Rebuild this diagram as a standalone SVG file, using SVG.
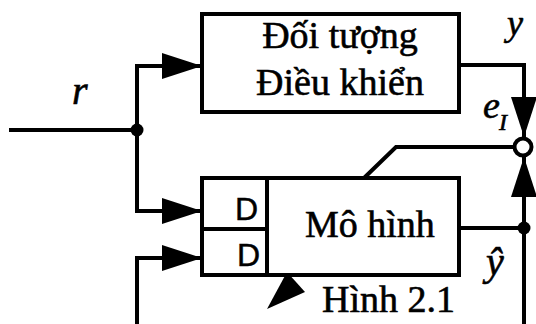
<svg xmlns="http://www.w3.org/2000/svg" width="536" height="324" viewBox="0 0 536 324">
  <style>
    .ln { fill: none; stroke: #000; stroke-width: 4; stroke-linejoin: miter; }
    .box { fill: #fff; stroke: #000; stroke-width: 4; }
    .txt { font-family: 'Liberation Serif', 'DejaVu Serif', serif; font-size: 38px; fill: #000; stroke: #000; stroke-width: 0.6; }
    .it { font-family: 'Liberation Serif', 'DejaVu Serif', serif; font-style: italic; fill: #000; stroke: #000; stroke-width: 0.6; }
    .sans { font-family: 'Liberation Sans', 'DejaVu Sans', sans-serif; font-size: 32px; fill: #000; stroke: #000; stroke-width: 0.5; }
  </style>
  <defs>
    <marker id="arr" markerUnits="userSpaceOnUse" markerWidth="40" markerHeight="26" refX="40" refY="13" orient="auto">
      <path d="M0,0 L40,13 L0,26 z" fill="#000"/>
    </marker>
  </defs>

  <!-- connectors -->
  <g id="connectors">
    <line class="ln" x1="9" y1="130" x2="137" y2="130"/>
    <polyline class="ln" points="137,130 137,66 202,66" marker-end="url(#arr)"/>
    <polyline class="ln" points="137,130 137,211 202,211" marker-end="url(#arr)"/>
    <polyline class="ln" points="137,324 137,258 202,258" marker-end="url(#arr)"/>
    <circle cx="137" cy="130" r="6.5" fill="#000"/>
    <!-- plant output y to comparator -->
    <polyline class="ln" points="459,65 524,65 524,137" marker-end="url(#arr)"/>
    <!-- model output to comparator -->
    <line class="ln" x1="459" y1="228" x2="524" y2="228"/>
    <line class="ln" x1="524" y1="324" x2="524" y2="157" marker-end="url(#arr)"/>
    <circle cx="524" cy="228" r="6.5" fill="#000"/>
    <!-- error e_I fed back into the model -->
    <polyline class="ln" points="513,147 396,147 364,178"/>
    <polygon points="267,309 287,272 305,292" fill="#000"/>
  </g>

  <!-- comparator -->
  <g id="sum">
    <circle cx="523" cy="147" r="8.5" fill="#fff" stroke="#000" stroke-width="4"/>
  </g>

  <!-- plant -->
  <g id="plant">
    <rect class="box" x="202" y="14" width="257" height="98"/>
    <text class="txt" x="340" y="48" text-anchor="middle">Đối tượng</text>
    <text class="txt" x="340" y="95" text-anchor="middle">Điều khiển</text>
  </g>

  <!-- model with delay cells -->
  <g id="model">
    <rect class="box" x="202" y="178" width="257" height="97"/>
    <line class="ln" x1="267" y1="178" x2="267" y2="275"/>
    <line class="ln" x1="202" y1="229" x2="267" y2="229"/>
    <text class="sans" x="258" y="220" text-anchor="end">D</text>
    <text class="sans" x="260" y="266" text-anchor="end">D</text>
    <text class="txt" x="305" y="237">Mô hình</text>
  </g>

  <!-- labels -->
  <g id="labels">
    <text class="it" x="72" y="104" font-size="40">r</text>
    <text class="it" x="507" y="35" font-size="36">y</text>
    <text class="it" x="483" y="118" font-size="38">e</text>
    <text class="it" x="499" y="130" font-size="24">I</text>
    <text class="it" x="486" y="275" font-size="40">ŷ</text>
    <text class="txt" x="322" y="312">Hình 2.1</text>
  </g>
</svg>
